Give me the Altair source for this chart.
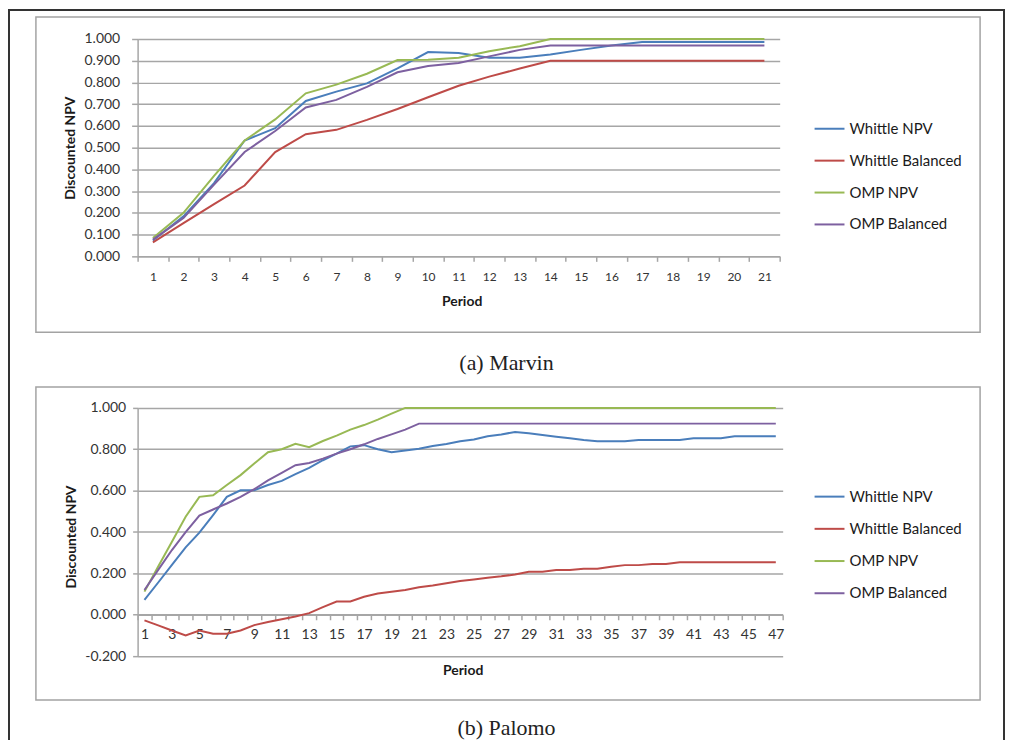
import altair as alt
import pandas as pd

SERIES = ["Whittle NPV", "Whittle Balanced", "OMP NPV", "OMP Balanced"]
COLORS = ["#4a7ebb", "#be4b48", "#98b954", "#7d60a0"]

# ---------------- (a) Marvin ----------------
periods_marvin = list(range(1, 22))
marvin_whittle_npv = [0.073, 0.184, 0.337, 0.533, 0.590, 0.715, 0.758, 0.796, 0.865, 0.940,
                      0.936, 0.914, 0.914, 0.929, 0.950, 0.970, 0.986, 0.986, 0.986, 0.986, 0.986]
marvin_whittle_bal = [0.064, 0.153, 0.240, 0.326, 0.480, 0.562, 0.582, 0.628, 0.678, 0.732,
                      0.785, 0.827, 0.864, 0.900, 0.900, 0.900, 0.900, 0.900, 0.900, 0.900, 0.900]
marvin_omp_npv = [0.084, 0.200, 0.370, 0.533, 0.630, 0.750, 0.790, 0.840, 0.903, 0.905,
                  0.914, 0.944, 0.967, 1.000, 1.000, 1.000, 1.000, 1.000, 1.000, 1.000, 1.000]
marvin_omp_bal = [0.077, 0.176, 0.330, 0.480, 0.577, 0.685, 0.720, 0.780, 0.847, 0.876,
                  0.890, 0.920, 0.950, 0.970, 0.970, 0.970, 0.970, 0.970, 0.970, 0.970, 0.970]
marvin_yticks = [0.0, 0.1, 0.2, 0.3, 0.4, 0.5, 0.6, 0.7, 0.8, 0.9, 1.0]

# ---------------- (b) Palomo ----------------
periods_palomo = list(range(1, 48))
palomo_whittle_npv = [0.072, 0.156, 0.241, 0.326, 0.397, 0.482, 0.570, 0.602, 0.602, 0.627,
                      0.647, 0.680, 0.710, 0.747, 0.779, 0.814, 0.820, 0.800, 0.786, 0.794,
                      0.803, 0.816, 0.826, 0.839, 0.847, 0.863, 0.871, 0.884, 0.877, 0.869,
                      0.861, 0.853, 0.845, 0.839, 0.839, 0.839, 0.845, 0.845, 0.845, 0.845,
                      0.853, 0.853, 0.853, 0.863, 0.863, 0.863, 0.863]
palomo_whittle_bal = [-0.027, -0.051, -0.076, -0.100, -0.076, -0.092, -0.092, -0.076, -0.050, -0.035,
                      -0.022, -0.008, 0.008, 0.037, 0.064, 0.064, 0.087, 0.103, 0.111, 0.120,
                      0.133, 0.141, 0.152, 0.163, 0.171, 0.179, 0.186, 0.195, 0.208, 0.208,
                      0.216, 0.216, 0.222, 0.222, 0.232, 0.240, 0.240, 0.246, 0.246, 0.254,
                      0.254, 0.254, 0.254, 0.254, 0.254, 0.254, 0.254]
palomo_omp_npv = [0.112, 0.233, 0.353, 0.474, 0.570, 0.578, 0.627, 0.675, 0.731, 0.786,
                  0.800, 0.826, 0.810, 0.840, 0.866, 0.895, 0.917, 0.943, 0.972, 1.000,
                  1.000, 1.000, 1.000, 1.000, 1.000, 1.000, 1.000, 1.000, 1.000, 1.000,
                  1.000, 1.000, 1.000, 1.000, 1.000, 1.000, 1.000, 1.000, 1.000, 1.000,
                  1.000, 1.000, 1.000, 1.000, 1.000, 1.000, 1.000]
palomo_omp_bal = [0.120, 0.217, 0.313, 0.400, 0.479, 0.509, 0.538, 0.570, 0.607, 0.650,
                  0.686, 0.723, 0.734, 0.755, 0.779, 0.800, 0.824, 0.850, 0.872, 0.895,
                  0.924, 0.924, 0.924, 0.924, 0.924, 0.924, 0.924, 0.924, 0.924, 0.924,
                  0.924, 0.924, 0.924, 0.924, 0.924, 0.924, 0.924, 0.924, 0.924, 0.924,
                  0.924, 0.924, 0.924, 0.924, 0.924, 0.924, 0.924]
palomo_yticks = [-0.2, 0.0, 0.2, 0.4, 0.6, 0.8, 1.0]

CAPTIONS = ["(a) Marvin", "(b) Palomo"]


def long_df(periods, cols):
    rows = []
    for name, vals in zip(SERIES, cols):
        for p, v in zip(periods, vals):
            rows.append({"Period": p, "Value": v, "Series": name})
    return pd.DataFrame(rows)


GRID = "#a6a6a6"
FONT = "Lato"
common_axis = dict(domainColor=GRID, domainWidth=1.5, tickColor=GRID, tickWidth=1.5,
                   gridColor=GRID, gridWidth=1.5, labelFont=FONT, labelColor="#333333",
                   titleFont=FONT, titleFontWeight="bold", titleColor="#1a1a1a",
                   titleFontSize=14)

one = pd.DataFrame({"k": [0]})
FRAME = "#333333"


def box_and_caption(box, cap_text, cap_xy):
    return [
        alt.Chart(one).mark_rect(fillOpacity=0, stroke="#a3a3a3", strokeWidth=1.5).encode(
            x=alt.value(box[0]), x2=alt.value(box[1]), y=alt.value(box[2]), y2=alt.value(box[3])),
        alt.Chart(pd.DataFrame({"cap": [cap_text]})).mark_text(
            font="Liberation Serif", fontSize=22, color="#222222", align="center", baseline="middle").encode(
            text="cap:N", x=alt.value(cap_xy[0]), y=alt.value(cap_xy[1])),
    ]


def outer_frame(left, right, top, bottom):
    return [
        alt.Chart(one).mark_rule(color=FRAME, strokeWidth=2, strokeCap="square").encode(
            x=alt.value(left), y=alt.value(top), y2=alt.value(bottom)),
        alt.Chart(one).mark_rule(color=FRAME, strokeWidth=2, strokeCap="square").encode(
            x=alt.value(right), y=alt.value(top), y2=alt.value(bottom)),
        alt.Chart(one).mark_rule(color=FRAME, strokeWidth=2, strokeCap="square").encode(
            x=alt.value(left), x2=alt.value(right), y=alt.value(top)),
    ]


def legend(lx, ly, rp):
    return alt.Legend(orient="none", legendX=lx, legendY=ly, symbolType="stroke",
                      symbolSize=900, symbolStrokeWidth=2, labelFont=FONT,
                      labelFontSize=15, labelColor="#1a1a1a", rowPadding=rp,
                      labelOffset=4, padding=0)


# both plot areas start at page x = 138; panel A top at page y = 38, panel B top at 408
W1, H1 = 644, 218
df_a = long_df(periods_marvin, [marvin_whittle_npv, marvin_whittle_bal, marvin_omp_npv, marvin_omp_bal])
lines_a = alt.Chart(df_a).mark_line(strokeWidth=2).encode(
    x=alt.X("Period:O", scale=alt.Scale(type="band", paddingInner=0, paddingOuter=0), bandPosition=0.5,
            axis=alt.Axis(title="Period", labelAngle=0, tickBand="extent", grid=False, labelFontSize=12,
                          labelPadding=10, tickSize=5, labelOverlap=False, titleX=325, titleY=45,
                          titleBaseline="middle", **common_axis)),
    y=alt.Y("Value:Q", scale=alt.Scale(domain=[0, 1], nice=False),
            axis=alt.Axis(title="Discounted NPV", values=marvin_yticks, format=".3f", tickSize=6,
                          labelPadding=12, labelFontSize=14, titleX=-67, titleY=H1 / 2,
                          titleBaseline="middle", titleAngle=270, **common_axis)),
    color=alt.Color("Series:N", title=None, scale=alt.Scale(domain=SERIES, range=COLORS),
                    legend=legend(678, 74, 8)),
)
panel_a = alt.layer(
    lines_a,
    *box_and_caption(box=(-102, 845, -22, 294), cap_text=CAPTIONS[0], cap_xy=(370, 325)),
    *outer_frame(left=-129, right=869, top=-29, bottom=702),
).properties(width=W1, height=H1)

W2, H2 = 647, 249
df_b = long_df(periods_palomo, [palomo_whittle_npv, palomo_whittle_bal, palomo_omp_npv, palomo_omp_bal])
lines_b = alt.Chart(df_b).mark_line(strokeWidth=2).encode(
    x=alt.X("Period:O", scale=alt.Scale(type="band", paddingInner=0, paddingOuter=0), bandPosition=0.5,
            axis=alt.Axis(title="Period", labelAngle=0, tickBand="extent", grid=False, labelFontSize=14,
                          labelPadding=8, tickSize=5, labelOverlap=False, offset=-41.5,
                          labelExpr="datum.value % 2 == 1 ? datum.label : ''",
                          titleX=326, titleY=56, titleBaseline="middle", **common_axis)),
    y=alt.Y("Value:Q", scale=alt.Scale(domain=[-0.2, 1.0], nice=False),
            axis=alt.Axis(title="Discounted NPV", values=palomo_yticks, format=".3f", tickSize=5,
                          labelPadding=7, labelFontSize=14, titleX=-66, titleY=129,
                          labelExpr="replace(datum.label, '\u2212', '-')",
                          titleBaseline="middle", titleAngle=270, **common_axis)),
    color=alt.Color("Series:N", title=None, scale=alt.Scale(domain=SERIES, range=COLORS),
                    legend=legend(678, 73, 8.3)),
)
panel_b = alt.layer(
    lines_b,
    *box_and_caption(box=(-102, 845, -21, 293), cap_text=CAPTIONS[1], cap_xy=(370, 321)),
).properties(width=W2, height=H2)

chart = alt.vconcat(panel_a, panel_b, spacing=152, bounds="flush").resolve_scale(
    x="independent", y="independent", color="independent"
).resolve_legend(color="independent").properties(
    autosize=alt.AutoSizeParams(type="none"),
    padding={"left": 130, "top": 30, "right": 871, "bottom": 703},
    background="white",
).configure_view(strokeWidth=0)

chart.save("out.html", embed_options={"renderer": "svg", "actions": False})
